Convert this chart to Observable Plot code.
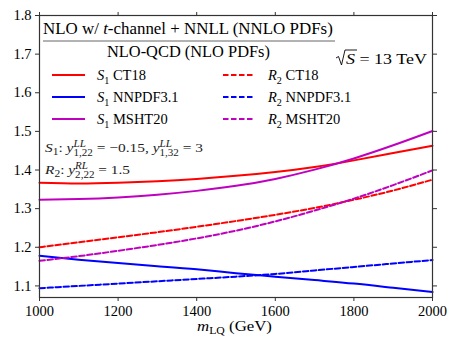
<!DOCTYPE html>
<html><head><meta charset="utf-8">
<script src="https://cdn.jsdelivr.net/npm/d3@7"></script>
<script src="https://cdn.jsdelivr.net/npm/@observablehq/plot@0.6"></script>
<style>
body{margin:0;background:#fff;}
#chart{position:relative;width:458px;height:352px;}
#chart svg, #chart svg text{font-family:"Liberation Serif","Times New Roman","DejaVu Serif",serif !important;}
text{white-space:pre;}
</style>
</head><body><div id="chart"></div>
<script>
const mLQ = [1000,1100,1200,1300,1400,1500,1600,1700,1800,1900,2000];
const s1CT18   = [1.367,1.365,1.367,1.371,1.377,1.385,1.395,1.408,1.425,1.444,1.463];
const s1NNPDF  = [1.178,1.168,1.159,1.151,1.143,1.133,1.124,1.115,1.106,1.095,1.084];
const s1MSHT20 = [1.323,1.325,1.329,1.336,1.346,1.359,1.377,1.401,1.430,1.464,1.501];
const r2CT18   = [1.200,1.213,1.226,1.239,1.253,1.268,1.284,1.302,1.323,1.347,1.375];
const r2NNPDF  = [1.094,1.100,1.106,1.112,1.118,1.124,1.131,1.140,1.149,1.158,1.167];
const r2MSHT20 = [1.165,1.177,1.191,1.206,1.223,1.243,1.267,1.295,1.326,1.361,1.399];
const xTicks = [1000,1200,1400,1600,1800,2000];
const yTicks = [1.1,1.2,1.3,1.4,1.5,1.6,1.7,1.8];

const RED="#ff0000", BLUE="#0000ff", MAG="#bf00bf";
const series = [
  {model:"S", sub:"1", pdf:"CT18", vals:s1CT18, color:RED, dash:null},
  {model:"S", sub:"1", pdf:"NNPDF3.1", vals:s1NNPDF, color:BLUE, dash:null},
  {model:"S", sub:"1", pdf:"MSHT20", vals:s1MSHT20, color:MAG, dash:null},
  {model:"R", sub:"2", pdf:"CT18", vals:r2CT18, color:RED, dash:"5.5,2.5"},
  {model:"R", sub:"2", pdf:"NNPDF3.1", vals:r2NNPDF, color:BLUE, dash:"5.5,2.5"},
  {model:"R", sub:"2", pdf:"MSHT20", vals:r2MSHT20, color:MAG, dash:"5.5,2.5"}
];

const FONT = "'Liberation Serif', 'Times New Roman', serif";
const lineMarks = series.map(s => Plot.line(mLQ.map((x,i)=>({x, y:s.vals[i]})), {
  x:"x", y:"y", stroke:s.color, strokeWidth:2, strokeDasharray:s.dash, curve:"natural"
}));

const plot = Plot.plot({
  width:458, height:352,
  marginLeft:39, marginRight:26, marginTop:15, marginBottom:55,
  style:{fontFamily:FONT, fontSize:"14.5px", color:"#000", background:"#fff"},
  x:{domain:[1000,2000]},
  y:{domain:[1.07,1.8]},
  marks:[
    Plot.axisX({ticks:xTicks, tickSize:4, tickPadding:4, tickFormat:d3.format("d"), label:null, stroke:"#333"}),
    Plot.axisX({anchor:"top", ticks:xTicks, tickSize:4, tickFormat:()=>"", label:null, stroke:"#333"}),
    Plot.axisY({ticks:yTicks, tickSize:4, tickPadding:4, tickFormat:d3.format(".1f"), label:null, stroke:"#333"}),
    Plot.axisY({anchor:"right", ticks:yTicks, tickSize:4, tickFormat:()=>"", label:null, stroke:"#333"}),
    ...lineMarks,
    Plot.frame({stroke:"#333", strokeWidth:1.2})
  ]
});
document.getElementById("chart").appendChild(plot);

const svg = d3.select(plot);
const g = svg.append("g").attr("font-family", FONT).attr("text-anchor","start").attr("fill","#000");

function mathText(parent, x, y, segs, size, fill){
  let cx = x, stackStart = null, stackW = 0;
  for (const s of segs){
    const fs = size*(s.s||1);
    const t = parent.append("text")
      .attr("x", s.sub2 ? stackStart : cx)
      .attr("y", y + (s.dy||0)*size)
      .attr("font-size", fs)
      .attr("text-anchor","start")
      .attr("font-style", s.it ? "italic" : "normal")
      .attr("fill", fill || "#000")
      .text(s.t);
    const w = t.node().getComputedTextLength();
    if (s.sup){ stackStart = cx; stackW = w; continue; }
    if (s.sub2){ cx = stackStart + Math.max(stackW, w); continue; }
    cx += w;
  }
  return cx - x;
}
function fitText(parent, xl, y, segs, size, targetW, fill){
  const tg = parent.append("g");
  const w = mathText(tg, 0, y, segs, size, fill);
  const k = targetW / w;
  tg.attr("transform", `translate(${xl},0) scale(${k},1)`);
}

// Title fraction
fitText(g, 43, 34, [{t:"NLO w/ "},{t:"t",it:true},{t:"-channel + NNLL (NNLO PDFs)"}], 16, 290);
g.append("line").attr("x1",43).attr("x2",335).attr("y1",41).attr("y2",41).attr("stroke","#666").attr("stroke-width",1);
fitText(g, 107, 57, [{t:"NLO-QCD (NLO PDFs)"}], 16, 163);
{
  const rg = g.append("g");
  const x0 = 336, base = 64;
  rg.append("path").attr("d", `M${x0},${base-6} L${x0+2.5},${base-7.5} L${x0+5.5},${base+1} L${x0+9},${base-14} L${x0+21},${base-14}`)
    .attr("fill","none").attr("stroke","#000").attr("stroke-width",0.9);
  fitText(rg, x0+10, base, [{t:"S",it:true},{t:" = 13 TeV"}], 14.5, 81);
}

// Legend
const legendRows = [75, 97, 119];
series.forEach((s,i)=>{
  const col = i < 3 ? 0 : 1;
  const row = i % 3;
  const lx1 = col ? 223 : 52, lx2 = col ? 255 : 85, tx = col ? 268 : 97;
  const y = legendRows[row];
  g.append("line").attr("x1",lx1).attr("x2",lx2).attr("y1",y).attr("y2",y)
    .attr("stroke",s.color).attr("stroke-width",2).attr("stroke-dasharray",s.dash);
  mathText(g, tx, y+5, [{t:s.model,it:true},{t:s.sub,s:0.7,dy:0.25},{t:" "+s.pdf}], 14.5);
});

// Annotations
const AN = 13;
fitText(g, 45, 152, [
  {t:"S",it:true},{t:"1",s:0.75,dy:0.25},{t:": "},
  {t:"y",it:true},{t:"LL",it:true,s:0.72,dy:-0.42,sup:true},{t:"1,22",s:0.72,dy:0.3,sub2:true},
  {t:" = −0.15, "},
  {t:"y",it:true},{t:"LL",it:true,s:0.72,dy:-0.42,sup:true},{t:"1,32",s:0.72,dy:0.3,sub2:true},
  {t:" = 3"}
], AN, 158, "#222");
fitText(g, 45, 174, [
  {t:"R",it:true},{t:"2",s:0.75,dy:0.25},{t:": "},
  {t:"y",it:true},{t:"RL",it:true,s:0.72,dy:-0.42,sup:true},{t:"2,22",s:0.72,dy:0.3,sub2:true},
  {t:" = 1.5"}
], AN, 85, "#222");

// X axis label
fitText(g, 197, 331, [{t:"m",it:true},{t:"LQ",s:0.7,dy:0.22},{t:" (GeV)"}], 15, 75);
</script>
</body></html>
